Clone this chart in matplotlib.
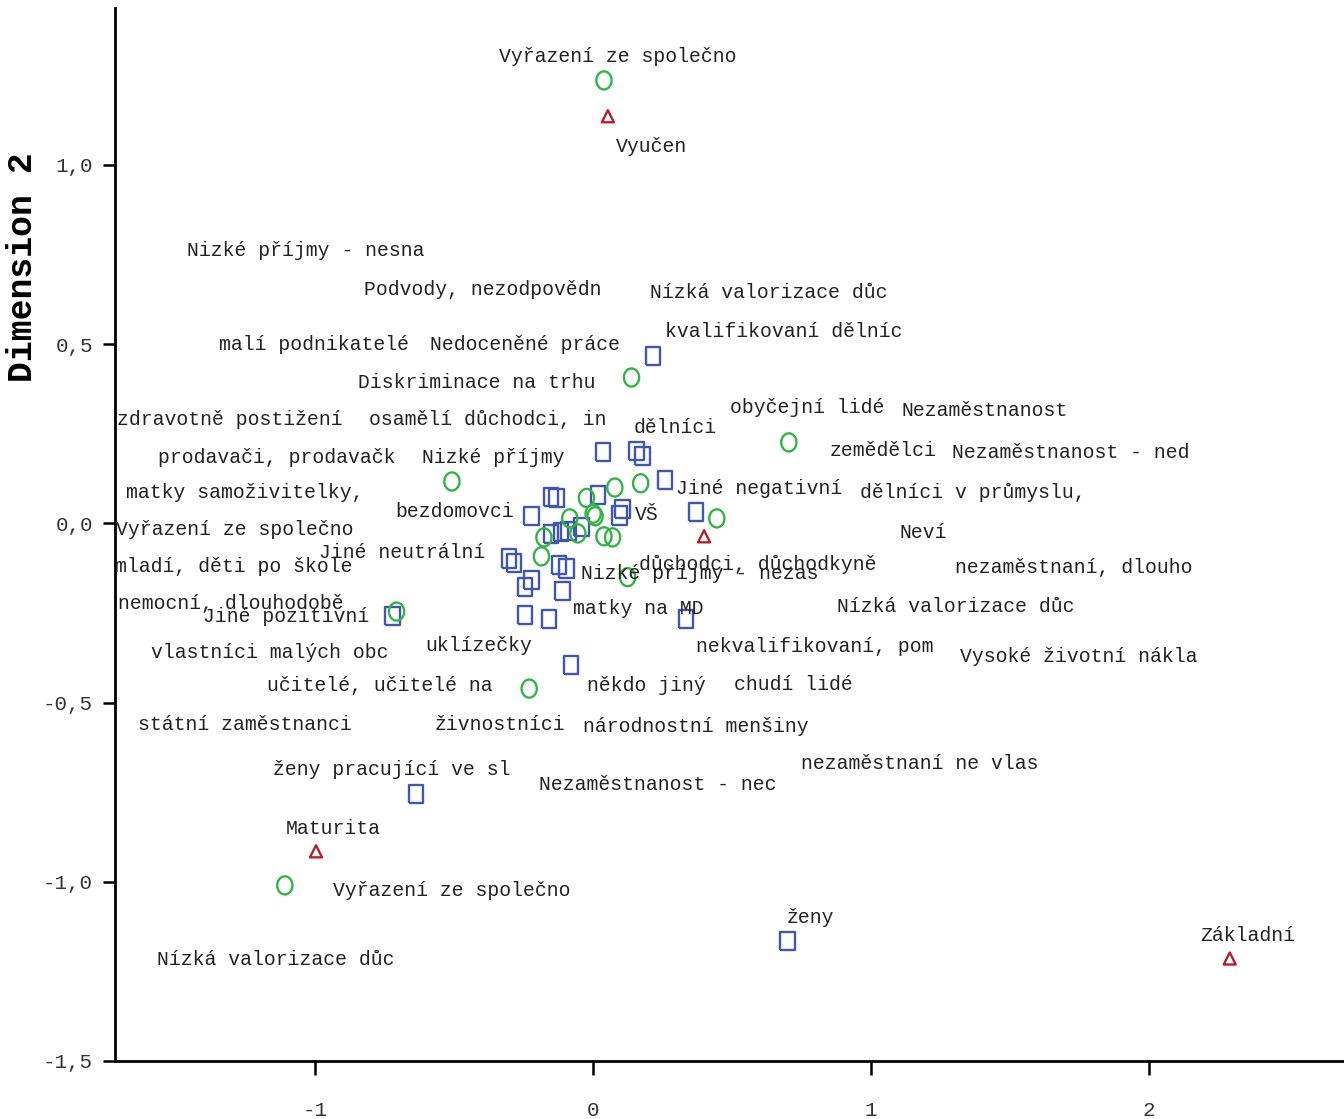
import numpy as np
import matplotlib.pyplot as plt

# --- data ---

# green circles: answer categories
circle_x = [0.040, 0.139, -0.507, 0.705, 0.446, -0.706, -0.229, -1.108,
            0.079, 0.172, -0.023, 0.001, 0.008, -0.083, -0.054, 0.040,
            0.071, -0.176, -0.185, 0.125]
circle_y = [1.236, 0.407, 0.117, 0.226, 0.014, -0.246, -0.461, -1.010,
            0.100, 0.112, 0.071, 0.027, 0.020, 0.014, -0.028, -0.036,
            -0.039, -0.039, -0.092, -0.150]

# blue squares: groups of people
square_x = [0.217, 0.037, 0.157, 0.179, 0.259, -0.151, -0.131, 0.019,
            -0.221, 0.107, 0.095, 0.371, -0.151, -0.115, -0.087, -0.041,
            -0.302, -0.284, -0.221, -0.245, -0.121, -0.095, -0.109, -0.245,
            -0.158, 0.335, -0.721, -0.079, -0.637, 0.701]
square_y = [0.466, 0.199, 0.202, 0.187, 0.120, 0.073, 0.071, 0.078,
            0.020, 0.041, 0.022, 0.032, -0.029, -0.024, -0.020, -0.010,
            -0.098, -0.110, -0.157, -0.178, -0.115, -0.126, -0.189, -0.255,
            -0.266, -0.266, -0.259, -0.396, -0.756, -1.166]

# red triangles: education
triangle_x = [0.054, 0.400, -0.996, 2.291]
triangle_y = [1.136, -0.036, -0.915, -1.214]

# point labels and where the plot put them
labels = [
    "Vyřazení ze společno", "Vyučen", "Nizké příjmy - nesna",
    "Podvody, nezodpovědn", "Nízká valorizace důc", "kvalifikovaní dělníc",
    "malí podnikatelé", "Nedoceněné práce", "Diskriminace na trhu",
    "obyčejní lidé", "Nezaměstnanost", "zdravotně postižení",
    "osamělí důchodci, in", "dělníci", "zemědělci", "Nezaměstnanost - ned",
    "prodavači, prodavačk", "Nizké příjmy", "Jiné negativní",
    "dělníci v průmyslu,", "matky samoživitelky,", "bezdomovci", "VŠ",
    "Vyřazení ze společno", "Neví", "Jiné neutrální", "mladí, děti po škole",
    "důchodci, důchodkyně", "Nizké příjmy - nezas", "nezaměstnaní, dlouho",
    "nemocní, dlouhodobě", "Jiné pozitivní", "matky na MD",
    "Nízká valorizace důc", "vlastníci malých obc", "uklízečky",
    "nekvalifikovaní, pom", "Vysoké životní nákla", "učitelé, učitelé na",
    "někdo jiný", "chudí lidé", "státní zaměstnanci", "živnostníci",
    "národnostní menšiny", "nezaměstnaní ne vlas", "ženy pracující ve sl",
    "Nezaměstnanost - nec", "Maturita", "Vyřazení ze společno", "ženy",
    "Základní", "Nízká valorizace důc",
]
label_x = [0.090, 0.212, -1.032, -0.396, 0.633, 0.687, -1.004, -0.245,
           -0.417, 0.770, 1.410, -1.306, -0.378, 0.295, 1.043, 1.719,
           -1.137, -0.360, 0.597, 1.367, -1.252, -0.496, 0.194, -1.288,
           1.187, -0.687, -1.291, 0.594, 0.385, 1.730, -1.302, -1.104,
           0.165, 1.306, -1.162, -0.410, 0.799, 1.748, -0.766, 0.191,
           0.723, -1.252, -0.335, 0.371, 1.176, -0.723, 0.234, -0.935,
           -0.507, 0.781, 2.356, -1.140]
label_y = [1.303, 1.052, 0.762, 0.653, 0.644, 0.536, 0.499, 0.499,
           0.393, 0.324, 0.315, 0.290, 0.290, 0.268, 0.204, 0.198,
           0.184, 0.184, 0.098, 0.086, 0.086, 0.033, 0.025, -0.017,
           -0.025, -0.081, -0.120, -0.114, -0.140, -0.123, -0.223, -0.259,
           -0.237, -0.232, -0.360, -0.340, -0.343, -0.371, -0.452, -0.452,
           -0.449, -0.561, -0.561, -0.566, -0.670, -0.686, -0.728, -0.851,
           -1.024, -1.099, -1.150, -1.217]

x_ticks = [-1, 0, 1, 2]
y_ticks = [-1.5, -1.0, -0.5, 0.0, 0.5, 1.0]

# --- plot ---
plt.rcParams['font.family'] = ['Liberation Mono', 'DejaVu Sans Mono']

fig = plt.figure(figsize=(13.44, 11.19), dpi=100)
ax = fig.add_axes([115 / 1344, 58 / 1119, 1229 / 1344, 1053 / 1119])

# slightly tall markers like the original
tall_rect = [(-0.4, -0.5), (0.4, -0.5), (0.4, 0.5), (-0.4, 0.5), (-0.4, -0.5)]
t = np.linspace(0, 2 * np.pi, 40)
tall_ellipse = list(zip(0.42 * np.cos(t), 0.5 * np.sin(t)))

ax.scatter(square_x, square_y, marker=tall_rect, s=170, facecolors='none',
           edgecolors='#3f57b0', linewidths=1.7, zorder=3)
ax.scatter(circle_x, circle_y, marker=tall_ellipse, s=170, facecolors='none',
           edgecolors='#33b444', linewidths=1.7, zorder=3)
ax.scatter(triangle_x, triangle_y, marker='^', s=75, facecolors='none',
           edgecolors='#b51f2a', linewidths=1.7, zorder=3)

for txt, lx, ly in zip(labels, label_x, label_y):
    ax.text(lx, ly, txt, ha='center', va='center', fontsize=14.2,
            color='#222222', zorder=4)

ax.set_xlim(-1.719, 2.702)
ax.set_ylim(-1.5, 1.438)
ax.set_xticks(x_ticks)
ax.set_xticklabels([str(v) for v in x_ticks])
ax.set_yticks(y_ticks)
ax.set_yticklabels([f"{v:.1f}".replace('.', ',') for v in y_ticks])

for side in ['top', 'right']:
    ax.spines[side].set_visible(False)
for side in ['left', 'bottom']:
    ax.spines[side].set_linewidth(2.0)

ax.tick_params(axis='x', length=10, width=1.8, pad=19, labelsize=15,
               labelcolor='#333333')
ax.tick_params(axis='y', length=9, width=1.8, pad=7, labelsize=15,
               labelcolor='#333333')

fig.text(23 / 1344, 1 - 267 / 1119, "Dimension 2", rotation=90, ha='center',
         va='center', fontsize=25, fontweight='bold')

fig.savefig('out.png', dpi=100)
